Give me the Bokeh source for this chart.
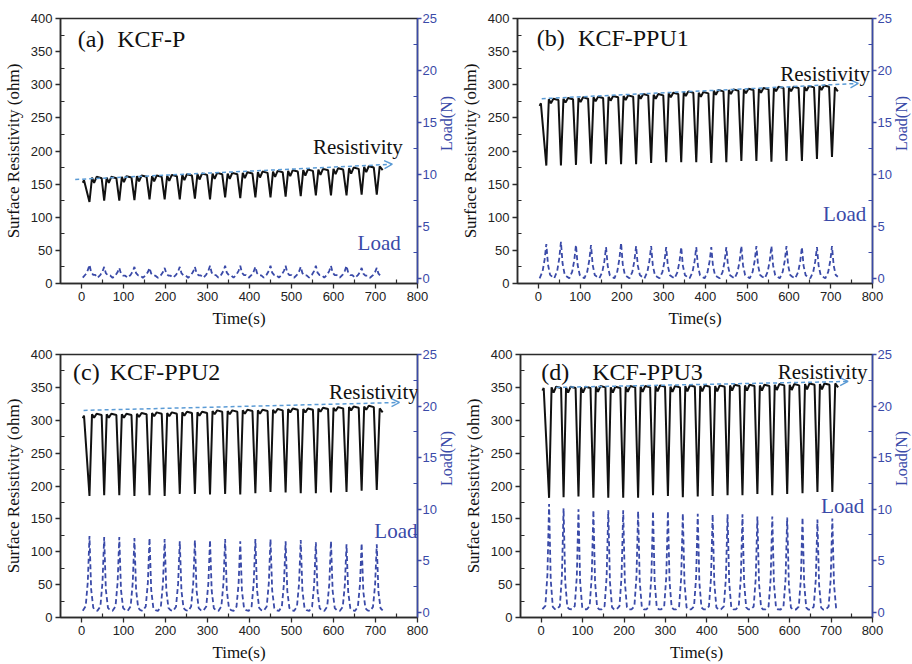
import math
from bokeh.plotting import figure
from bokeh.models import Range1d, LinearAxis, Label, Arrow, OpenHead, FixedTicker
from bokeh.layouts import column, row
from bokeh.embed import file_html
from bokeh.resources import INLINE

# ---------------- data ----------------
# times (s) of the resistivity minima / load maxima (20 compression cycles)
cycle_times = [19, 54, 90, 126, 162, 198, 234, 270, 306, 342,
               378, 414, 450, 486, 522, 558, 594, 631, 667, 703]

# (a) KCF-P
a_trough = [123, 125, 125, 126, 127, 127, 127, 128, 127, 130,
            129, 130, 130, 131, 132, 133, 133, 133, 134, 134]
a_top = [156, 160, 160, 161, 162, 162, 163, 164, 165, 166, 166,
         167, 168, 169, 170, 171, 172, 173, 174, 176, 177]
a_load = [1.3, 1.1, 1.0, 1.1, 1.0, 1.0, 1.1, 1.1, 1.2, 1.2,
          1.2, 1.1, 1.2, 1.2, 1.1, 1.2, 1.2, 1.2, 1.0, 1.0]

# (b) KCF-PPU1
b_trough = [178, 178, 179, 181, 180, 180, 180, 182, 183, 183,
            183, 182, 183, 185, 185, 184, 185, 185, 188, 191]
b_top = [272, 278, 279, 280, 281, 282, 283, 285, 285, 287, 289,
         288, 291, 292, 293, 294, 296, 296, 297, 298, 296]
b_load = [3.3, 3.5, 3.2, 3.2, 3.0, 3.4, 3.1, 3.1, 3.0, 3.0,
          3.0, 3.0, 3.0, 3.1, 3.1, 3.1, 3.1, 3.0, 3.0, 3.1]

# (c) KCF-PPU2
c_trough = [185, 186, 186, 185, 186, 185, 188, 188, 187, 188,
            187, 189, 191, 190, 189, 189, 190, 191, 193, 194]
c_top = [307, 309, 309, 309, 310, 311, 311, 312, 312, 314, 314,
         315, 315, 316, 317, 317, 318, 319, 320, 321, 318]
c_load = [7.4, 7.3, 7.3, 7.2, 7.2, 7.1, 6.9, 7.0, 7.0, 7.1,
          6.9, 7.1, 7.1, 6.9, 7.0, 6.8, 6.9, 6.6, 6.7, 6.6]

# (d) KCF-PPU3
d_trough = [182, 183, 184, 182, 182, 182, 182, 186, 185, 183,
            184, 185, 186, 186, 188, 186, 188, 189, 191, 191]
d_top = [349, 350, 350, 350, 351, 350, 351, 351, 352, 351, 352,
         352, 352, 353, 353, 353, 354, 354, 355, 355, 356]
d_load = [10.5, 10.1, 10.0, 9.9, 9.9, 9.9, 9.8, 9.8, 9.8, 9.6,
          9.55, 9.5, 9.5, 9.5, 9.3, 9.3, 9.2, 9.2, 9.0, 9.1]

# small dip in the top of each resistivity cycle (ohm)
top_dip = {"a": 8, "b": 6, "c": 5, "d": 8}

# load pulse shape around each peak: time offsets and fraction of the peak
load_offsets = [-16, -9, -4, 0, 4, 9, 14]
load_frac = {
    "a": [0.05, 0.30, 0.60, 1.0, 0.45, 0.25, 0.25],
    "b": [0.00, 0.20, 0.55, 1.0, 0.40, 0.10, 0.05],
    "c": [0.02, 0.08, 0.40, 1.0, 0.30, 0.06, 0.03],
    "d": [0.03, 0.06, 0.35, 1.0, 0.30, 0.05, 0.03],
}

panel_tags = ["(a)", "(b)", "(c)", "(d)"]
panel_names = ["KCF-P", "KCF-PPU1", "KCF-PPU2", "KCF-PPU3"]

# trend arrows (time, ohm) start -> end
trend_start = [(-15, 157), (8, 279), (5, 315), (36, 350)]
trend_end = [(740, 180), (766, 302), (757, 327), (741, 359)]

x_ticks = [0, 100, 200, 300, 400, 500, 600, 700, 800]
y_ticks = [0, 50, 100, 150, 200, 250, 300, 350, 400]
load_ticks = [0, 5, 10, 15, 20, 25]

# ---------------- styling ----------------
BLACK = "#111111"
AX = "#2b2b2b"
BLUE = "#3a4aa8"
LIGHT = "#5b9bd5"
SERIF = "Liberation Serif"
SANS = "Liberation Sans"
RIGHT_BORDER = 58          # room kept for the blue right axis
EXTRA = RIGHT_BORDER - 39  # left-column figures reach under the right column


def res_path(tops, troughs, dip):
    T = cycle_times
    xs = [T[0] - 16, T[0] - 13]
    ys = [tops[0] - 4, tops[0]]
    for k in range(len(T)):
        xs.append(T[k])
        ys.append(troughs[k])
        P = tops[k + 1]
        if k < len(T) - 1:
            xs += [T[k] + 6, T[k] + 11, T[k] + 17, T[k] + 29]
            ys += [P, P - dip, P + 1, P - 1]
        else:
            xs += [T[k] + 7, T[k] + 14]
            ys += [P, P - 6]
    return xs, ys


def load_path(peaks, frac):
    xs, ys = [], []
    for t, pk in zip(cycle_times, peaks):
        for o, f in zip(load_offsets, frac):
            xs.append(t + o)
            ys.append(pk * f)
    return xs, ys


def make_panel(i, key, tops, troughs, loads, width, height, borders, pos):
    left, right, top, bottom = borders
    p = figure(width=width, height=height, output_backend="svg",
               toolbar_location=None,
               x_range=Range1d(-50, 800), y_range=Range1d(0, 400),
               min_border_left=left, min_border_right=right,
               min_border_top=top, min_border_bottom=bottom)
    p.grid.visible = False
    p.outline_line_color = AX
    p.outline_line_width = 1.5
    p.background_fill_color = "white"
    p.border_fill_color = "white"
    p.extra_y_ranges = {"load": Range1d(-0.5, 25)}

    for ax in (p.xaxis[0], p.yaxis[0]):
        ax.axis_line_color = AX
        ax.axis_line_width = 1.5
        ax.major_tick_line_color = AX
        ax.minor_tick_line_color = AX
        ax.major_tick_line_width = 1.3
        ax.minor_tick_line_width = 1.2
        ax.major_tick_out = 5
        ax.major_tick_in = 0
        ax.minor_tick_out = 0
        ax.minor_tick_in = 4
        ax.major_label_text_font = SANS
        ax.major_label_text_font_size = "13px"
        ax.major_label_text_color = "#222222"
        ax.major_label_standoff = 3
        ax.axis_label_text_font = SERIF
        ax.axis_label_text_font_size = "17px"
        ax.axis_label_text_font_style = "normal"
        ax.axis_label_text_color = "#111111"
        ax.axis_label_standoff = 5
    p.xaxis[0].ticker = FixedTicker(ticks=x_ticks,
                                    minor_ticks=[t + 50 for t in x_ticks[:-1]])
    p.yaxis[0].ticker = FixedTicker(ticks=y_ticks,
                                    minor_ticks=[t + 25 for t in y_ticks[:-1]])
    p.xaxis[0].axis_label = "Time(s)"
    p.yaxis[0].axis_label = "Surface Resistivity (ohm)"

    rax = LinearAxis(y_range_name="load", axis_label="Load(N)",
                     ticker=FixedTicker(ticks=load_ticks,
                                        minor_ticks=[t + 2.5 for t in load_ticks[:-1]]))
    rax.axis_line_color = BLUE
    rax.axis_line_width = 1.5
    rax.major_tick_line_color = BLUE
    rax.minor_tick_line_color = BLUE
    rax.major_tick_line_width = 1.3
    rax.minor_tick_line_width = 1.2
    rax.major_tick_out = 4
    rax.major_tick_in = 0
    rax.minor_tick_out = 0
    rax.minor_tick_in = 4
    rax.major_label_text_font = SANS
    rax.major_label_text_font_size = "13px"
    rax.major_label_text_color = BLUE
    rax.major_label_standoff = 1
    rax.axis_label_text_font = SERIF
    rax.axis_label_text_font_size = "16px"
    rax.axis_label_text_font_style = "normal"
    rax.axis_label_text_color = BLUE
    rax.axis_label_standoff = 7
    if "axis_label_orientation" in LinearAxis.properties():
        rax.axis_label_orientation = math.pi / 2
    p.add_layout(rax, "right")

    lx, ly = load_path(loads, load_frac[key])
    p.line(lx, ly, y_range_name="load", line_color=BLUE, line_width=1.8,
           line_dash="5 3")
    rx, ry = res_path(tops, troughs, top_dip[key])
    p.line(rx, ry, line_color=BLACK, line_width=2.0)

    (sx, sy), (ex, ey) = trend_start[i], trend_end[i]
    p.add_layout(Arrow(end=OpenHead(size=8, line_color=LIGHT, line_width=1.4),
                       x_start=sx, y_start=sy, x_end=ex, y_end=ey,
                       line_color=LIGHT, line_width=1.5, line_dash="4 3"))

    tag_x, name_x, ty, rx_, ry_, lx_, ly_ = pos
    p.add_layout(Label(x=tag_x, y=ty, text=panel_tags[i], text_font=SERIF,
                       text_font_size="24px", text_color=BLACK,
                       text_baseline="alphabetic"))
    p.add_layout(Label(x=name_x, y=ty, text=panel_names[i], text_font=SERIF,
                       text_font_size="24px", text_color=BLACK,
                       text_baseline="alphabetic"))
    p.add_layout(Label(x=rx_, y=ry_, text="Resistivity", text_font=SERIF,
                       text_font_size="21px", text_color=BLACK,
                       text_align="right", text_baseline="alphabetic"))
    p.add_layout(Label(x=lx_, y=ly_, text="Load", text_font=SERIF,
                       text_font_size="21px", text_color=BLUE,
                       text_align="right", text_baseline="alphabetic"))
    return p


# frame right edges: a,c at 417; b,d kept a little inside the window edge
pa = make_panel(0, "a", a_top, a_trough, a_load, 417 + RIGHT_BORDER, 330,
                (58, RIGHT_BORDER, 18, 45), (-9, 85, 369, 765, 206, 760, 61))
pb = make_panel(1, "b", b_top, b_trough, b_load, 872 - 456 + RIGHT_BORDER, 330,
                (61, RIGHT_BORDER, 18, 46), (-4, 95, 371, 794, 316, 785, 105))
pc = make_panel(2, "c", c_top, c_trough, c_load, 417 + RIGHT_BORDER, 334,
                (55, RIGHT_BORDER, 24, 43), (-20, 67, 373, 803, 343, 800, 131))
pd = make_panel(3, "d", d_top, d_trough, d_load, 872 - 456 + RIGHT_BORDER, 334,
                (64, RIGHT_BORDER, 23, 46), (0, 123, 374, 788, 374, 780, 170))
pb.margin = (0, 0, 0, -EXTRA)
pd.margin = (0, 0, 0, -EXTRA)

layout = column(row(pa, pb), row(pc, pd), width=912, height=664,
                styles={"overflow": "hidden"})
open("out.html", "w").write(file_html(layout, INLINE))
